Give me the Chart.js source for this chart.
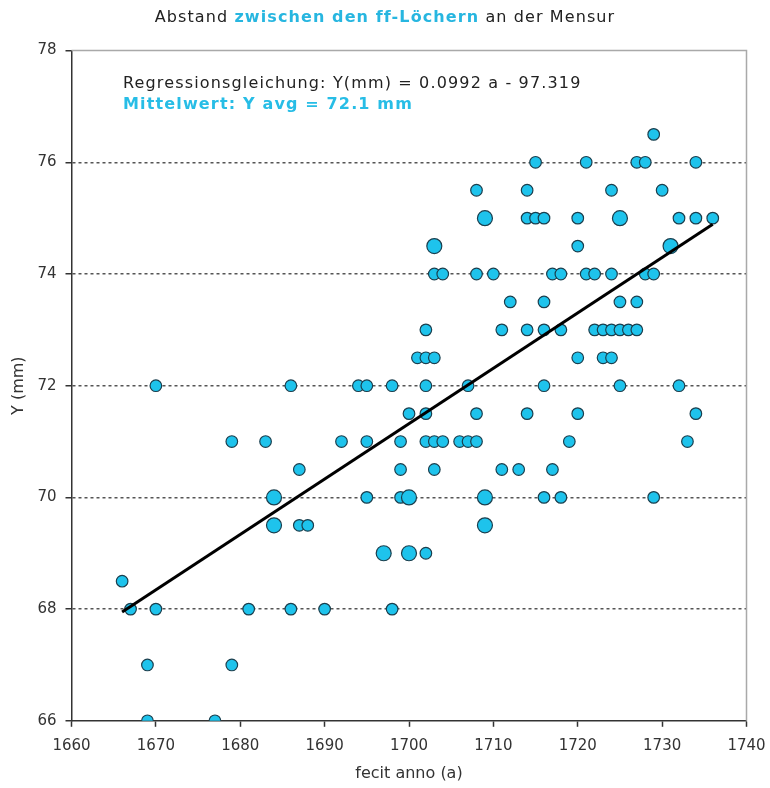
<!DOCTYPE html>
<html>
<head>
<meta charset="utf-8">
<script src="https://cdn.jsdelivr.net/npm/chart.js@4.4.1/dist/chart.umd.min.js"></script>
<style>
  html, body { margin: 0; padding: 0; background: #fff; }
  #wrap { width: 770px; height: 788px; }
</style>
</head>
<body>
<div id="wrap"><canvas id="chart" width="770" height="788"></canvas></div>
<script>
'use strict';

// ===== DATA =====
// one row per measured distance (mm); years of the instruments at that distance
// a year listed twice = two instruments (drawn as a bigger dot)
const rowMm = [76.5, 76, 75.5, 75, 74.5, 74, 73.5, 73, 72.5, 72, 71.5, 71, 70.5, 70, 69.5, 69, 68.5, 68, 67, 66];
const rowYears = [
  [1729],
  [1715, 1721, 1727, 1728, 1734],
  [1708, 1714, 1724, 1730],
  [1709, 1709, 1714, 1715, 1716, 1720, 1725, 1725, 1732, 1734, 1736],
  [1703, 1703, 1720, 1731, 1731],
  [1703, 1704, 1708, 1710, 1717, 1718, 1721, 1722, 1724, 1728, 1729],
  [1712, 1716, 1725, 1727],
  [1702, 1711, 1714, 1716, 1718, 1722, 1723, 1724, 1725, 1726, 1727],
  [1701, 1702, 1703, 1720, 1723, 1724],
  [1670, 1686, 1694, 1695, 1698, 1702, 1707, 1716, 1725, 1732],
  [1700, 1702, 1708, 1714, 1720, 1734],
  [1679, 1683, 1692, 1695, 1699, 1702, 1703, 1704, 1706, 1707, 1708, 1719, 1733],
  [1687, 1699, 1703, 1711, 1713, 1717],
  [1684, 1684, 1695, 1699, 1700, 1700, 1709, 1709, 1716, 1718, 1729],
  [1684, 1684, 1687, 1688, 1709, 1709],
  [1697, 1697, 1700, 1700, 1702],
  [1666],
  [1667, 1670, 1681, 1686, 1690, 1698],
  [1669, 1679],
  [1669, 1677]
];

// regression line Y(mm) = 0.0992 a - 97.319, drawn over the data range
const trendYears = [1666, 1736];
const trendMm = [67.95, 74.89];

const xTicks = { min: 1660, max: 1740, step: 10 };
const yTicks = { min: 66, max: 78, step: 2 };

const titleParts = [
  ['Abstand ', false, '#222'],
  ['zwischen den ff-Löchern', true, '#27b6e0'],
  [' an der Mensur', false, '#222']
];
const noteLines = [
  ['Regressionsgleichung: Y(mm) = 0.0992 a - 97.319', false, '#222'],
  ['Mittelwert: Y avg = 72.1 mm', true, '#27bde6']
];

const FONT = "'DejaVu Sans', Verdana, sans-serif";
const CYAN = '#1ec3ec';

// ===== BUILD POINTS =====
const points = [];
const counts = {};
rowMm.forEach((mm, i) => {
  rowYears[i].forEach(yr => {
    const key = yr + '|' + mm;
    if (counts[key]) { counts[key]++; return; }
    counts[key] = 1;
    points.push({ x: yr, y: mm });
  });
});

// ===== TEXT + FRAME PLUGIN =====
const chartText = {
  id: 'chartText',
  afterDraw(chart) {
    const ctx = chart.ctx;
    const a = chart.chartArea;
    ctx.save();

    // light frame on top and right
    ctx.strokeStyle = '#a9a9a9';
    ctx.lineWidth = 1.5;
    ctx.beginPath();
    ctx.moveTo(a.left, a.top);
    ctx.lineTo(a.right, a.top);
    ctx.lineTo(a.right, a.bottom);
    ctx.stroke();

    ctx.textBaseline = 'middle';
    ctx.textAlign = 'left';
    ctx.letterSpacing = '1.1px';

    // title, mixed colours
    let total = 0;
    titleParts.forEach(p => {
      ctx.font = (p[1] ? 'bold ' : '') + '16px ' + FONT;
      total += ctx.measureText(p[0]).width;
    });
    let x = 385 - total / 2;
    titleParts.forEach(p => {
      ctx.font = (p[1] ? 'bold ' : '') + '16px ' + FONT;
      ctx.fillStyle = p[2];
      ctx.fillText(p[0], x, 18);
      x += ctx.measureText(p[0]).width;
    });

    // equation + mean
    ctx.letterSpacing = '1.15px';
    noteLines.forEach((l, i) => {
      ctx.font = (l[1] ? 'bold ' : '') + '16px ' + FONT;
      ctx.fillStyle = l[2];
      ctx.fillText(l[0], 123, 84 + i * 21);
    });

    ctx.restore();
  }
};

// ===== CHART =====
new Chart(document.getElementById('chart'), {
  type: 'scatter',
  data: {
    datasets: [
      {
        type: 'line',
        label: 'Regression',
        data: trendYears.map((yr, i) => ({ x: yr, y: trendMm[i] })),
        borderColor: '#000',
        borderWidth: 3,
        pointRadius: 0,
        fill: false,
        order: 0
      },
      {
        label: 'Abstand',
        data: points,
        backgroundColor: CYAN,
        borderColor: '#1b3f4e',
        borderWidth: 1.2,
        pointRadius: ctx => {
          const p = ctx.raw;
          return p && counts[p.x + '|' + p.y] > 1 ? 7.5 : 5.8;
        },
        order: 1
      }
    ]
  },
  options: {
    responsive: false,
    animation: false,
    layout: { padding: { top: 50.6, right: 23.5, bottom: 0, left: 0 } },
    plugins: {
      legend: { display: false },
      tooltip: { enabled: false }
    },
    scales: {
      x: {
        type: 'linear',
        min: xTicks.min,
        max: xTicks.max,
        afterFit: s => { s.height = 67.2; s.paddingLeft = 0; s.paddingRight = 0; },
        ticks: {
          stepSize: xTicks.step,
          padding: 10,
          color: '#333',
          font: { family: FONT, size: 15 },
          callback: v => String(v)
        },
        grid: { drawOnChartArea: false, tickLength: 6, tickColor: '#333', tickWidth: 1.5 },
        border: { color: '#333', width: 1.5 },
        title: {
          display: true,
          text: 'fecit anno (a)',
          color: '#333',
          font: { family: FONT, size: 16 },
          padding: { top: 4, bottom: 5 }
        }
      },
      y: {
        type: 'linear',
        min: yTicks.min,
        max: yTicks.max,
        afterFit: s => { s.width = 71.5; s.paddingTop = 0; s.paddingBottom = 0; },
        ticks: {
          stepSize: yTicks.step,
          padding: 9,
          color: '#333',
          font: { family: FONT, size: 15 },
          callback: v => String(v)
        },
        grid: {
          color: c => (c.tick && (c.tick.value === yTicks.min || c.tick.value === yTicks.max)) ? 'rgba(0,0,0,0)' : '#555',
          lineWidth: 1.5,
          tickBorderDash: [],
          tickColor: '#333',
          tickWidth: 1.5,
          tickLength: 6
        },
        border: { color: '#333', width: 1.5, dash: [3, 3] },
        title: {
          display: true,
          text: 'Y (mm)',
          color: '#333',
          font: { family: FONT, size: 16 },
          padding: { top: 9, bottom: 0 }
        }
      }
    }
  },
  plugins: [chartText]
});
</script>
</body>
</html>
